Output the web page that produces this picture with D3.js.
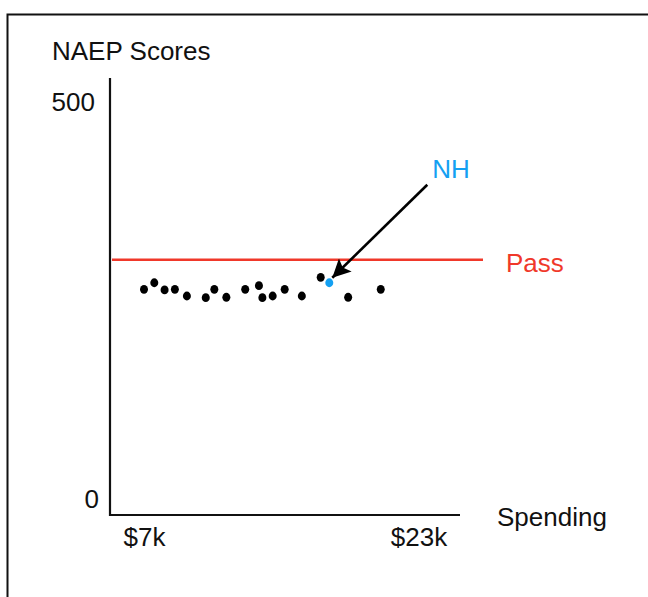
<!DOCTYPE html>
<html>
<head>
<meta charset="utf-8">
<script src="https://cdn.jsdelivr.net/npm/d3@7"></script>
<style>
    body { margin: 0; background: #ffffff; }
    text { font-family: "Liberation Sans", Arial, Helvetica, sans-serif; }
</style>
</head>
<body>
<div id="chart"></div>
<script>
// Data (spending in $k, NAEP score)
const spending = [7.0, 7.6, 8.2, 8.8, 9.5, 10.6, 11.1, 11.8, 12.9, 13.7, 13.9, 14.5, 15.2, 16.2, 17.3, 18.9, 20.8];
const scores   = [264.7, 273.0, 263.9, 264.7, 256.3, 254.2, 264.7, 254.7, 264.7, 269.3, 254.2, 256.3, 264.7, 256.3, 279.8, 254.7, 264.7];
const nhSpending = 17.8;
const nhScore = 273.0;
const passScore = 302;
const xTicks = [7, 23];
const xTickLabels = ["$7k", "$23k"];
const yTicks = [0, 500];

const W = 648, H = 597;
const BLUE = "#14a0f2", RED = "#f0382a";

const svg = d3.select("#chart")
    .append("svg")
    .attr("width", W)
    .attr("height", H);

// Frame around the figure
svg.append("path")
    .attr("d", "M7.5,597 V14.5 H648")
    .attr("fill", "none")
    .attr("stroke", "#111")
    .attr("stroke-width", 2);

// Scales
var x = d3.scaleLinear().domain([7, 23]).range([144, 418.5]);
var y = d3.scaleLinear().domain([0, 500]).range([499.5, 102.5]);

const axisX = 110, axisBottom = 515, axisTop = 78, axisRight = 460, passRight = 483;

// Axis lines
svg.append("line")
    .attr("x1", axisX).attr("x2", axisX)
    .attr("y1", axisTop).attr("y2", axisBottom + 1)
    .attr("stroke", "#111").attr("stroke-width", 2.2);
svg.append("line")
    .attr("x1", axisX - 1).attr("x2", axisRight)
    .attr("y1", axisBottom).attr("y2", axisBottom)
    .attr("stroke", "#111").attr("stroke-width", 2.2);

// Y tick labels
const gy = svg.append("g")
    .attr("transform", "translate(" + axisX + ",0)")
    .call(d3.axisLeft(y).tickValues(yTicks).tickSize(0).tickFormat(d3.format("d")));
gy.select(".domain").remove();
gy.selectAll("text")
    .attr("x", d => d === 0 ? -11 : -15)
    .style("font-size", "26px")
    .style("font-family", "'Liberation Sans', Arial, sans-serif")
    .attr("fill", "#111");

// X tick labels
const gx = svg.append("g")
    .attr("transform", "translate(0," + axisBottom + ")")
    .call(d3.axisBottom(x).tickValues(xTicks).tickSize(0).tickPadding(13)
        .tickFormat((d, i) => xTickLabels[i]));
gx.select(".domain").remove();
gx.selectAll("text")
    .style("font-size", "26px")
    .style("font-family", "'Liberation Sans', Arial, sans-serif")
    .attr("fill", "#111");

// Axis titles
svg.append("text")
    .attr("x", 52).attr("y", 60)
    .style("font-size", "26px")
    .attr("fill", "#111")
    .text("NAEP Scores");
svg.append("text")
    .attr("x", 497).attr("y", 526)
    .style("font-size", "26px")
    .attr("fill", "#111")
    .text("Spending");

// Pass line
svg.append("line")
    .attr("x1", axisX + 2).attr("x2", passRight)
    .attr("y1", y(passScore)).attr("y2", y(passScore))
    .attr("stroke", RED).attr("stroke-width", 2.6);
svg.append("text")
    .attr("x", passRight + 23).attr("y", y(passScore) + 12)
    .style("font-size", "26px")
    .attr("fill", RED)
    .text("Pass");

// State points
svg.selectAll(".dot")
    .data(spending.map((s, i) => [s, scores[i]]))
    .enter()
    .append("ellipse")
    .attr("class", "dot")
    .attr("cx", d => x(d[0]))
    .attr("cy", d => y(d[1]))
    .attr("rx", 4)
    .attr("ry", 4.4)
    .attr("fill", "#000");

// NH point
const nx = x(nhSpending), ny = y(nhScore);
svg.append("ellipse")
    .attr("cx", nx).attr("cy", ny)
    .attr("rx", 4).attr("ry", 4.4)
    .attr("fill", BLUE);

// Arrow to NH
svg.append("defs").append("marker")
    .attr("id", "head")
    .attr("viewBox", "0 0 10 10")
    .attr("refX", 10).attr("refY", 5)
    .attr("markerWidth", 7.5).attr("markerHeight", 7)
    .attr("markerUnits", "strokeWidth")
    .attr("orient", "auto")
    .append("path")
    .attr("d", "M0,0 L10,5 L0,10 L2,5 Z")
    .attr("fill", "#000");
svg.append("line")
    .attr("x1", nx + 98).attr("y1", ny - 98)
    .attr("x2", nx + 3).attr("y2", ny - 5)
    .attr("stroke", "#000").attr("stroke-width", 2.6)
    .attr("marker-end", "url(#head)");
svg.append("text")
    .attr("x", nx + 103).attr("y", ny - 105)
    .style("font-size", "26px")
    .attr("fill", BLUE)
    .text("NH");
</script>
</body>
</html>
